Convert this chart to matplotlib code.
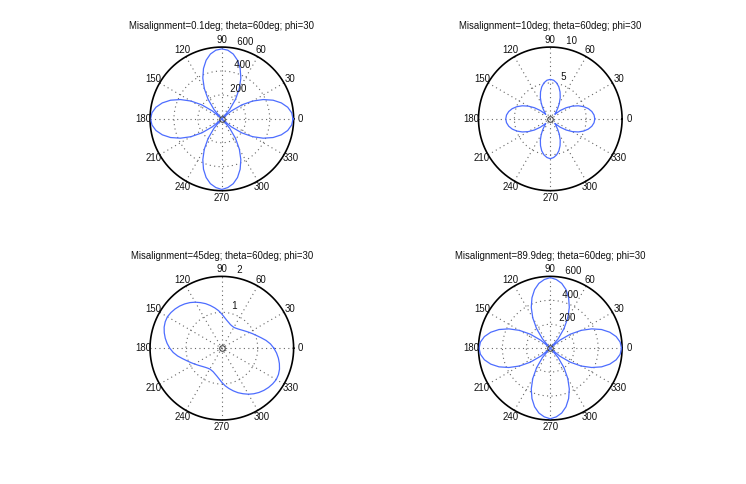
import numpy as np
import matplotlib
matplotlib.use("Agg")
import matplotlib.pyplot as plt

plt.rcParams['font.family'] = ['Liberation Sans', 'DejaVu Sans']

# ---- data ----
angles_deg = list(range(0, 360, 5))

r_01 = [595, 586, 559, 515, 456, 382, 298, 204, 103, 0,
        102, 200, 293, 376, 448, 507, 550, 576, 585, 576,
        550, 507, 448, 376, 293, 200, 102, 0, 103, 204,
        298, 382, 456, 515, 559, 586,
        595, 586, 559, 515, 456, 382, 298, 204, 103, 0,
        102, 200, 293, 376, 448, 507, 550, 576, 590, 576,
        550, 507, 448, 376, 293, 200, 102, 0, 103, 204,
        298, 382, 456, 515, 559, 586]

r_10 = [6.20, 6.12, 5.88, 5.49, 4.96, 4.31, 3.55, 2.71, 1.82, 0.90,
        1.24, 1.82, 2.53, 3.27, 3.98, 4.61, 5.09, 5.40, 5.50, 5.40,
        5.09, 4.61, 3.98, 3.27, 2.53, 1.82, 1.24, 0.90, 1.82, 2.71,
        3.55, 4.31, 4.96, 5.49, 5.88, 6.12,
        6.20, 6.12, 5.88, 5.49, 4.96, 4.31, 3.55, 2.71, 1.82, 0.90,
        1.24, 1.82, 2.53, 3.27, 3.98, 4.61, 5.09, 5.40, 5.55, 5.40,
        5.09, 4.61, 3.98, 3.27, 2.53, 1.82, 1.24, 0.90, 1.82, 2.71,
        3.55, 4.31, 4.96, 5.49, 5.88, 6.12]

r_45 = [1.45, 1.36, 1.25, 1.13, 1.03, 0.95, 0.88, 0.82, 0.77, 0.73,
        0.70, 0.68, 0.67, 0.68, 0.70, 0.74, 0.79, 0.86, 0.95, 1.05,
        1.14, 1.23, 1.32, 1.40, 1.48, 1.55, 1.61, 1.66, 1.70, 1.73,
        1.75, 1.74, 1.71, 1.66, 1.60, 1.53,
        1.45, 1.36, 1.25, 1.13, 1.03, 0.95, 0.88, 0.82, 0.77, 0.73,
        0.70, 0.68, 0.67, 0.68, 0.70, 0.74, 0.79, 0.86, 0.95, 1.05,
        1.14, 1.23, 1.32, 1.40, 1.48, 1.55, 1.61, 1.66, 1.70, 1.73,
        1.75, 1.74, 1.71, 1.66, 1.60, 1.53]

r_899 = list(r_01)
r_899[18] = 590

titles = ["Misalignment=0.1deg; theta=60deg; phi=30",
          "Misalignment=10deg; theta=60deg; phi=30",
          "Misalignment=45deg; theta=60deg; phi=30",
          "Misalignment=89.9deg; theta=60deg; phi=30"]
series = [r_01, r_10, r_45, r_899]
rmax_list = [600, 10, 2, 600]
ring_lists = [[200, 400, 600], [5, 10], [1, 2], [200, 400, 600]]
angle_labels = [0, 30, 60, 90, 120, 150, 180, 210, 240, 270, 300, 330]

positions = [[0.13, 0.5838, 0.3347, 0.3412],
             [0.5703, 0.5838, 0.3347, 0.3412],
             [0.13, 0.11, 0.3347, 0.3412],
             [0.5703, 0.11, 0.3347, 0.3412]]

fig = plt.figure(figsize=(7.46, 4.84), dpi=100)
FS = 6.9
grid_col = '#666666'
txt_col = '#111111'
tt = np.linspace(0, 2 * np.pi, 361)

for pos, title, r, rmax, rings in zip(positions, titles, series, rmax_list, ring_lists):
    ax = fig.add_axes(pos)
    ax.set_xlim(-rmax, rmax)
    ax.set_ylim(-1.15 * rmax, 1.15 * rmax)
    ax.set_aspect('equal', adjustable='datalim')
    ax.axis('off')
    # spokes
    for a in range(0, 180, 30):
        th = np.deg2rad(a)
        ax.plot([-rmax * np.cos(th), rmax * np.cos(th)],
                [-rmax * np.sin(th), rmax * np.sin(th)],
                ls=(0, (1, 3)), color=grid_col, lw=0.8)
    # rings
    rinc = rings[0]
    c82, s82 = np.cos(np.deg2rad(82)), np.sin(np.deg2rad(82))
    for rv in rings:
        if rv == rmax:
            ax.plot(rv * np.cos(tt), rv * np.sin(tt), color='black', lw=1.2)
        else:
            ax.plot(rv * np.cos(tt), rv * np.sin(tt), ls=(0, (1, 3)),
                    color=grid_col, lw=0.8)
        ax.text((rv + rinc / 20) * c82, (rv + rinc / 20) * s82, '  ' + str(rv),
                ha='left', va='bottom', fontsize=FS, color=txt_col)
    # angle labels
    for a in angle_labels:
        th = np.deg2rad(a)
        ax.text(1.1 * rmax * np.cos(th), 1.1 * rmax * np.sin(th), str(a),
                ha='center', va='center', fontsize=FS, color=txt_col)
    # data
    th = np.deg2rad(np.append(angles_deg, 360))
    rr = np.append(r, r[0])
    ax.plot(rr * np.cos(th), rr * np.sin(th), color='#4d6dff', lw=0.9)
    ax.plot([0], [0], marker='o', ms=4, mfc='none', mec='#444444', mew=0.8)
    ax.set_title(title, fontsize=FS, pad=5, color=txt_col)

fig.savefig('out.png', dpi=100)
